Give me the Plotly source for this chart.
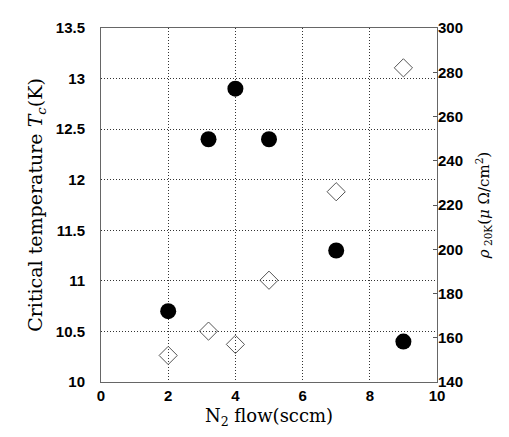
import plotly.graph_objects as go

n2_flow = [2, 3.2, 4, 5, 7, 9]
tc_values = [10.7, 12.4, 12.9, 12.4, 11.3, 10.4]
rho_values = [152, 163, 157, 186, 226, 282]

x_ticks = [0, 2, 4, 6, 8, 10]
y_ticks = [10, 10.5, 11, 11.5, 12, 12.5, 13, 13.5]
y_tick_text = ["10", "10.5", "11", "11.5", "12", "12.5", "13", "13.5"]
y2_ticks = [140, 160, 180, 200, 220, 240, 260, 280, 300]

tick_font = dict(family="Liberation Sans", size=15, color="black", weight="bold")
title_font = dict(family="DejaVu Serif", size=19, color="black")

fig = go.Figure()
fig.add_trace(go.Scatter(
    x=n2_flow, y=tc_values, mode="markers",
    marker=dict(symbol="circle", size=16, color="black"),
    showlegend=False))
fig.add_trace(go.Scatter(
    x=n2_flow, y=rho_values, mode="markers", yaxis="y2",
    marker=dict(symbol="diamond-open", size=14, color="#555",
                line=dict(width=1, color="#555")),
    showlegend=False))

grid = dict(showgrid=True, gridcolor="#333", griddash="1px,2px", gridwidth=1,
            showline=True, linecolor="#666", linewidth=1, mirror=True,
            zeroline=False, ticks="")

fig.update_layout(
    width=509, height=437,
    margin=dict(l=93, r=80, t=20, b=63),
    paper_bgcolor="white", plot_bgcolor="white",
    xaxis=dict(range=[0, 10], tickvals=x_ticks, tickfont=tick_font, **grid,
               title=dict(text="N<sub>2</sub> flow(sccm)", font=dict(family="DejaVu Serif", size=18, color="black"), standoff=6)),
    yaxis=dict(range=[10, 13.5], tickvals=y_ticks, ticktext=y_tick_text, tickfont=tick_font, **grid,
               ticklabelstandoff=12,
               title=dict(text="Critical temperature <i>T<sub>c</sub></i>(K)", font=title_font, standoff=8)),
    yaxis2=dict(range=[140, 300], tickvals=y2_ticks, tickfont=tick_font,
                overlaying="y", side="right", showgrid=False, zeroline=False,
                ticks="inside", ticklen=4, tickcolor="#555",
                title=dict(text="<i>ρ</i><sub> 20K</sub>(<i>μ</i> Ω/cm<sup>2</sup>)", font=dict(family="DejaVu Serif", size=15, color="black"), standoff=16)),
)

fig.write_html("out.html")
